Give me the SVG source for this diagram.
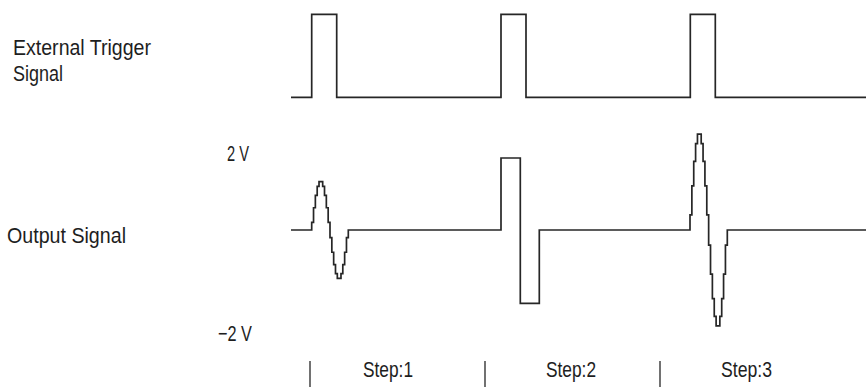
<svg xmlns="http://www.w3.org/2000/svg" width="866" height="387" viewBox="0 0 866 387">
<style>
.lbl{font-family:"Liberation Sans",Arial,sans-serif;font-size:22px;fill:#1e1e1e}
.wave{fill:none;stroke:#262626;stroke-width:1.7;stroke-linejoin:miter}
.tick{stroke:#262626;stroke-width:1.3}
</style>
<rect width="866" height="387" fill="#ffffff"/>
<g id="labels">
<text class="lbl" x="13" y="55" textLength="138" lengthAdjust="spacingAndGlyphs">External Trigger</text>
<text class="lbl" x="13" y="81" textLength="50" lengthAdjust="spacingAndGlyphs">Signal</text>
<text class="lbl" x="7" y="243" textLength="119" lengthAdjust="spacingAndGlyphs">Output Signal</text>
<text class="lbl" x="227" y="161" textLength="22" lengthAdjust="spacingAndGlyphs">2 V</text>
<text class="lbl" x="218" y="341" textLength="34" lengthAdjust="spacingAndGlyphs">−2 V</text>
</g>
<g id="trigger-signal">
<path class="wave" d="M291,97.3 H311.7 V14.3 H336.7 V97.3 H501 V14.3 H526 V97.3 H690.3 V14.3 H715.3 V97.3 H866"/>
</g>
<g id="output-signal">
<path class="wave" d="M291,230 H311.7 V222.34 H313.53 V207.75 H315.36 V195.35 H317.19 V186.34 H319.02 V181.6 H322.68 V186.34 H324.51 V195.35 H326.34 V207.75 H328.17 V222.34 H330 V237.66 H331.83 V252.25 H333.66 V264.65 H335.49 V273.66 H337.32 V278.4 H340.98 V273.66 H342.81 V264.65 H344.64 V252.25 H346.47 V237.66 H348.3 V230 H501 V158 H520.3 V303.3 H539.3 V230 H690 V214.83 H691.87 V185.96 H693.73 V161.41 H695.6 V143.57 H697.46 V134.19 H701.19 V143.57 H703.06 V161.41 H704.92 V185.96 H706.79 V214.83 H708.65 V245.17 H710.52 V274.04 H712.38 V298.59 H714.25 V316.43 H716.11 V325.81 H719.84 V316.43 H721.71 V298.59 H723.57 V274.04 H725.44 V245.17 H727.3 V230 H866"/>
</g>
<g id="steps">
<line class="tick" x1="310" y1="361" x2="310" y2="387"/>
<line class="tick" x1="485" y1="361" x2="485" y2="387"/>
<line class="tick" x1="660" y1="361" x2="660" y2="387"/>
<text class="lbl" x="363" y="377" textLength="50" lengthAdjust="spacingAndGlyphs">Step:1</text>
<text class="lbl" x="546" y="377" textLength="50" lengthAdjust="spacingAndGlyphs">Step:2</text>
<text class="lbl" x="721" y="377" textLength="51" lengthAdjust="spacingAndGlyphs">Step:3</text>
</g>
</svg>
